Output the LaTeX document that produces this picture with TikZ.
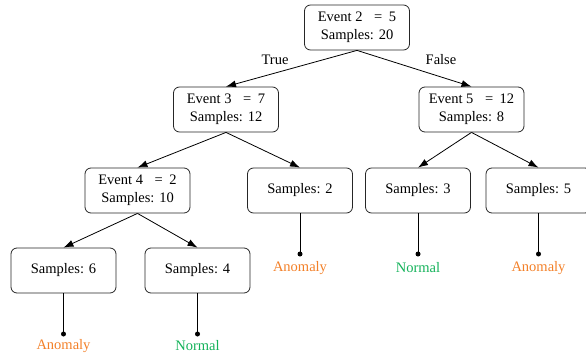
\documentclass[tikz,border=0pt]{standalone}
\usepackage{fontspec}
\setmainfont{Liberation Serif}
\usetikzlibrary{arrows.meta}
\definecolor{anom}{RGB}{243,128,40}
\definecolor{norm}{RGB}{20,178,90}
\tikzset{
  tnode/.style={draw=black!85, line width=0.8pt, rounded corners=6pt, minimum width=105pt, minimum height=45pt, align=center, inner sep=2pt, font=\fontsize{14.5}{18}\selectfont},
  edge/.style={draw=black, line width=0.8pt, -{Latex[length=10pt,width=7pt]}},
  leafline/.style={draw=black, line width=0.8pt},
  lbl/.style={font=\fontsize{14.5}{18}\selectfont, inner sep=1pt},
  dotc/.style={circle, fill=black, inner sep=0pt, minimum size=5pt}
}
\newcommand{\gapeq}{\hspace{0.55em}}
\newcommand{\eqgap}{\hspace{0.2em}}
\begin{document}
\begin{tikzpicture}[x=1pt,y=-1pt]
\useasboundingbox (0,0) rectangle (586,353);
\node[tnode] (e2) at (357,27.5) {Event 2\gapeq{} =\eqgap{} 5\\Samples: 20};
\node[tnode] (e3) at (226,109.5) {Event 3\gapeq{} =\eqgap{} 7\\Samples: 12};
\node[tnode] (e5) at (471.5,109.5) {Event 5\gapeq{} =\eqgap{} 12\\Samples: 8};
\node[tnode] (e4) at (137.5,190.5) {Event 4\gapeq{} =\eqgap{} 2\\Samples: 10};
\node[tnode] (s2) at (300,190.5) {Samples: 2};
\node[tnode] (s3) at (418,190.5) {Samples: 3};
\node[tnode] (s5) at (538.5,190.5) {Samples: 5};
\node[tnode] (s6) at (63.5,270.5) {Samples: 6};
\node[tnode] (s4) at (197.5,270.5) {Samples: 4};

\draw[edge] (e2.south) -- (e3.north);
\draw[edge] (e2.south) -- (e5.north);
\draw[edge] (e3.south) -- (e4.north);
\draw[edge] (e3.south) -- (s2.north);
\draw[edge] (e5.south) -- (s3.north);
\draw[edge] (e5.south) -- (s5.north);
\draw[edge] (e4.south) -- (s6.north);
\draw[edge] (e4.south) -- (s4.north);

\node[lbl] (t) at (275,60) {True};
\node[lbl] (f) at (441,60) {False};

\node[dotc] (d2) at (300,254) {};
\node[dotc] (d3) at (418,254) {};
\node[dotc] (d5) at (538.5,254) {};
\node[dotc] (d6) at (63.5,334) {};
\node[dotc] (d4) at (197.5,334) {};
\draw[leafline] (s2.south) -- (d2.center);
\draw[leafline] (s3.south) -- (d3.center);
\draw[leafline] (s5.south) -- (d5.center);
\draw[leafline] (s6.south) -- (d6.center);
\draw[leafline] (s4.south) -- (d4.center);

\node[lbl, text=anom] (l2) at (300,268) {Anomaly};
\node[lbl, text=norm] (l3) at (418,268) {Normal};
\node[lbl, text=anom] (l5) at (538.5,268) {Anomaly};
\node[lbl, text=anom] (l6) at (63.5,346) {Anomaly};
\node[lbl, text=norm] (l4) at (197.5,346) {Normal};
\end{tikzpicture}
\end{document}
